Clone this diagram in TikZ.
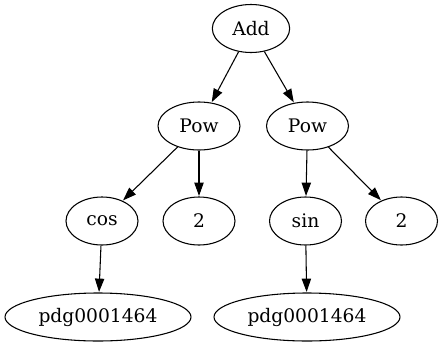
\documentclass[tikz,border=0pt]{standalone}
\usepackage{fontspec}
\setmainfont{DejaVu Serif}
\usetikzlibrary{shapes.geometric,arrows.meta}
\begin{document}
\begin{tikzpicture}[x=0.75pt,y=-0.75pt,
  nd/.style={draw,ellipse,line width=0.8pt,inner sep=0pt,minimum width=54pt,minimum height=36pt,font=\fontsize{14pt}{16pt}\selectfont},
  edge/.style={draw,line width=0.8pt,-{Triangle[length=10pt,width=7pt]},shorten >=0.4pt}]
\useasboundingbox (0,0) rectangle (443,347);
\node[nd,minimum width=58pt] (add) at (251,28.5) {Add};
\node[nd,minimum width=61.5pt] (powl) at (199,126) {Pow};
\node[nd,minimum width=61.5pt] (powr) at (307.5,126) {Pow};
\node[nd] (cos) at (102,221) {cos};
\node[nd] (twol) at (199,221) {2};
\node[nd] (sin) at (305.5,221) {sin};
\node[nd] (twor) at (401.5,221) {2};
\node[nd,minimum width=139.5pt] (pdgl) at (98,317) {pdg0001464};
\node[nd,minimum width=139.5pt] (pdgr) at (307,317) {pdg0001464};
\draw[edge] (add) -- (powl);
\draw[edge] (add) -- (powr);
\draw[edge] (powl) -- (cos);
\draw[edge] (powl) -- (twol);
\draw[edge] (powr) -- (sin);
\draw[edge] (powr) -- (twor);
\draw[edge] (cos) -- (pdgl);
\draw[edge] (sin) -- (pdgr);
\end{tikzpicture}
\end{document}
